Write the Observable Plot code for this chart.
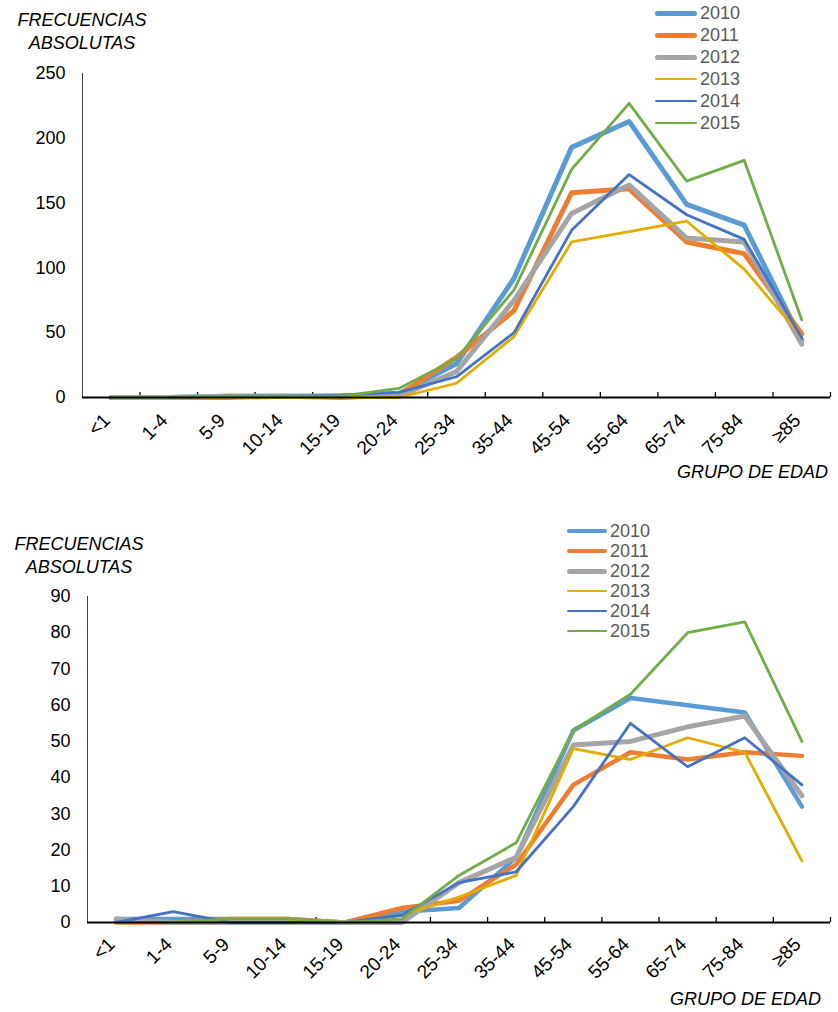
<!DOCTYPE html>
<html>
<head>
<meta charset="utf-8">
<script src="https://cdn.jsdelivr.net/npm/d3@7"></script>
<script src="https://cdn.jsdelivr.net/npm/@observablehq/plot@0.6"></script>
<style>
  html, body { margin: 0; padding: 0; background: #fff; }
  #page { position: relative; width: 838px; height: 1012px; font-family: "Liberation Sans", Arial, sans-serif; }
  .chart { position: absolute; left: 0; }
  .ytitle { position: absolute; font-style: italic; font-size: 18px; color: #000; text-align: center; line-height: 23px; }
  .xtitle { position: absolute; font-style: italic; font-size: 18px; color: #000; text-align: right; }
  .legend { position: absolute; font-size: 18px; color: #595959; }
  .legend .row { position: absolute; left: 0; display: flex; align-items: center; white-space: nowrap; }
  .legend .sw { display: inline-block; border-radius: 3px; }
</style>
</head>
<body>
<div id="page"></div>
<script>
// ---------- data ----------
const groups = ["<1","1-4","5-9","10-14","15-19","20-24","25-34","35-44","45-54","55-64","65-74","75-84","≥85"];
const years = ["2010","2011","2012","2013","2014","2015"];
const colors = ["#5B9BD5","#ED7D31","#A5A5A5","#E2AC00","#4472C4","#70AD47"];

// top chart
const top2010 = [0,0,1,1,1,3,26,92,193,213,149,133,44];
const top2011 = [0,0,0,1,0,2,31,67,158,161,120,111,49];
const top2012 = [0,0,1,1,1,1,20,75,142,164,123,120,41];
const top2013 = [0,0,0,0,0,0,11,47,120,128,136,99,47];
const top2014 = [0,0,1,1,2,4,16,50,129,172,141,122,46];
const top2015 = [0,0,1,1,1,7,30,83,176,227,167,183,60];
const topTicks = [0,50,100,150,200,250];

// bottom chart
const bot2010 = [1,1,1,1,0,3,4,18,53,62,60,58,32];
const bot2011 = [0,0,1,1,0,4,6,16,38,47,45,47,46];
const bot2012 = [1,0,0,0,0,0,11,18,49,50,54,57,35];
const bot2013 = [0,0,1,1,0,2,7,13,48,45,51,47,17];
const bot2014 = [0,3,0,0,0,2,11,14,32,55,43,51,38];
const bot2015 = [0,0,1,1,0,1,13,22,53,63,80,83,50];
const botTicks = [0,10,20,30,40,50,60,70,80,90];

const yTitle = ["FRECUENCIAS", "ABSOLUTAS"];
const xTitle = "GRUPO DE EDAD";

function rowsOf(seriesList) {
  const rows = [];
  seriesList.forEach((vals, s) => vals.forEach((v, i) => rows.push({i, year: years[s], v})));
  return rows;
}

function makeChart(cfg) {
  const rows = rowsOf(cfg.series);
  const bounds = groups.map((g, i) => i + 0.5);
  const yMax = cfg.ticks[cfg.ticks.length - 1];
  const plotH = cfg.height - cfg.mt - cfg.mb;
  const tickLen = yMax * 5 / plotH;
  const marks = [
    Plot.axisY({ticks: cfg.ticks, tickSize: 0, tickPadding: cfg.tickPad, fontSize: 18, fill: "#000", label: null}),
    Plot.ruleX([-0.5], {stroke: "#404040", strokeWidth: 1}),
    Plot.ruleX(bounds, {x: d => d, y1: 0, y2: tickLen, stroke: "#000", strokeWidth: 1.3}),
    Plot.text(groups, {x: (d, i) => i, frameAnchor: "bottom", text: d => d, rotate: -45, textAnchor: "end",
      dx: cfg.lblDx, dy: cfg.lblDy, fontSize: 19, fill: "#000"})
  ];
  years.forEach((y, s) => {
    marks.push(Plot.line(rows.filter(r => r.year === y), {
      x: "i", y: "v", stroke: colors[s], strokeWidth: cfg.widths[s],
      strokeLinejoin: "round", strokeLinecap: "round"
    }));
  });
  marks.push(Plot.ruleY([0], {stroke: "#000", strokeWidth: 2}));
  return Plot.plot({
    width: 838, height: cfg.height,
    marginTop: cfg.mt, marginBottom: cfg.mb, marginLeft: cfg.ml, marginRight: 8,
    style: {fontFamily: '"Liberation Sans", Arial, sans-serif', background: "#fff", overflow: "visible"},
    x: {type: "linear", domain: [-0.5, groups.length - 0.5], axis: null},
    y: {domain: [0, yMax], axis: null},
    marks
  });
}

const page = document.getElementById("page");

function addChart(top, cfg, lay) {
  const svg = makeChart(cfg);
  svg.classList.add("chart");
  svg.style.top = top + "px";
  page.appendChild(svg);

  const yt = document.createElement("div");
  yt.className = "ytitle";
  yt.style.left = lay.ytLeft + "px"; yt.style.top = lay.ytTop + "px"; yt.style.width = "150px";
  yt.innerHTML = yTitle.join("<br>");
  page.appendChild(yt);

  const xt = document.createElement("div");
  xt.className = "xtitle";
  xt.style.right = (838 - lay.xtRight) + "px"; xt.style.top = lay.xtTop + "px";
  xt.textContent = xTitle;
  page.appendChild(xt);

  const lg = document.createElement("div");
  lg.className = "legend";
  lg.style.left = lay.lgLeft + "px"; lg.style.top = lay.lgTop + "px";
  years.forEach((y, s) => {
    const r = document.createElement("div");
    r.className = "row";
    r.style.top = (s * lay.lgStep) + "px";
    r.style.height = "20px";
    const sw = document.createElement("span");
    sw.className = "sw";
    sw.style.width = lay.swW + "px";
    sw.style.height = cfg.widths[s] + "px";
    sw.style.background = colors[s];
    sw.style.marginRight = "3px";
    const t = document.createElement("span");
    t.textContent = y;
    r.appendChild(sw); r.appendChild(t);
    lg.appendChild(r);
  });
  page.appendChild(lg);
}

addChart(0, {
  series: [top2010, top2011, top2012, top2013, top2014, top2015],
  ticks: topTicks, height: 506, mt: 73, mb: 109, ml: 82, tickPad: 17,
  widths: [5, 5, 5, 2.8, 2.8, 2.8], lblDx: 0, lblDy: 24
}, {ytLeft: 7, ytTop: 9, xtRight: 828, xtTop: 462, lgLeft: 655, lgTop: 3, lgStep: 22, swW: 42});

addChart(506, {
  series: [bot2010, bot2011, bot2012, bot2013, bot2014, bot2015],
  ticks: botTicks, height: 506, mt: 90, mb: 90, ml: 87, tickPad: 17,
  widths: [4.5, 4.5, 5, 2.8, 2.8, 2.8], lblDx: 0, lblDy: 23
}, {ytLeft: 4, ytTop: 533, xtRight: 821, xtTop: 989, lgLeft: 567, lgTop: 521, lgStep: 20, swW: 40});
</script>
</body>
</html>
